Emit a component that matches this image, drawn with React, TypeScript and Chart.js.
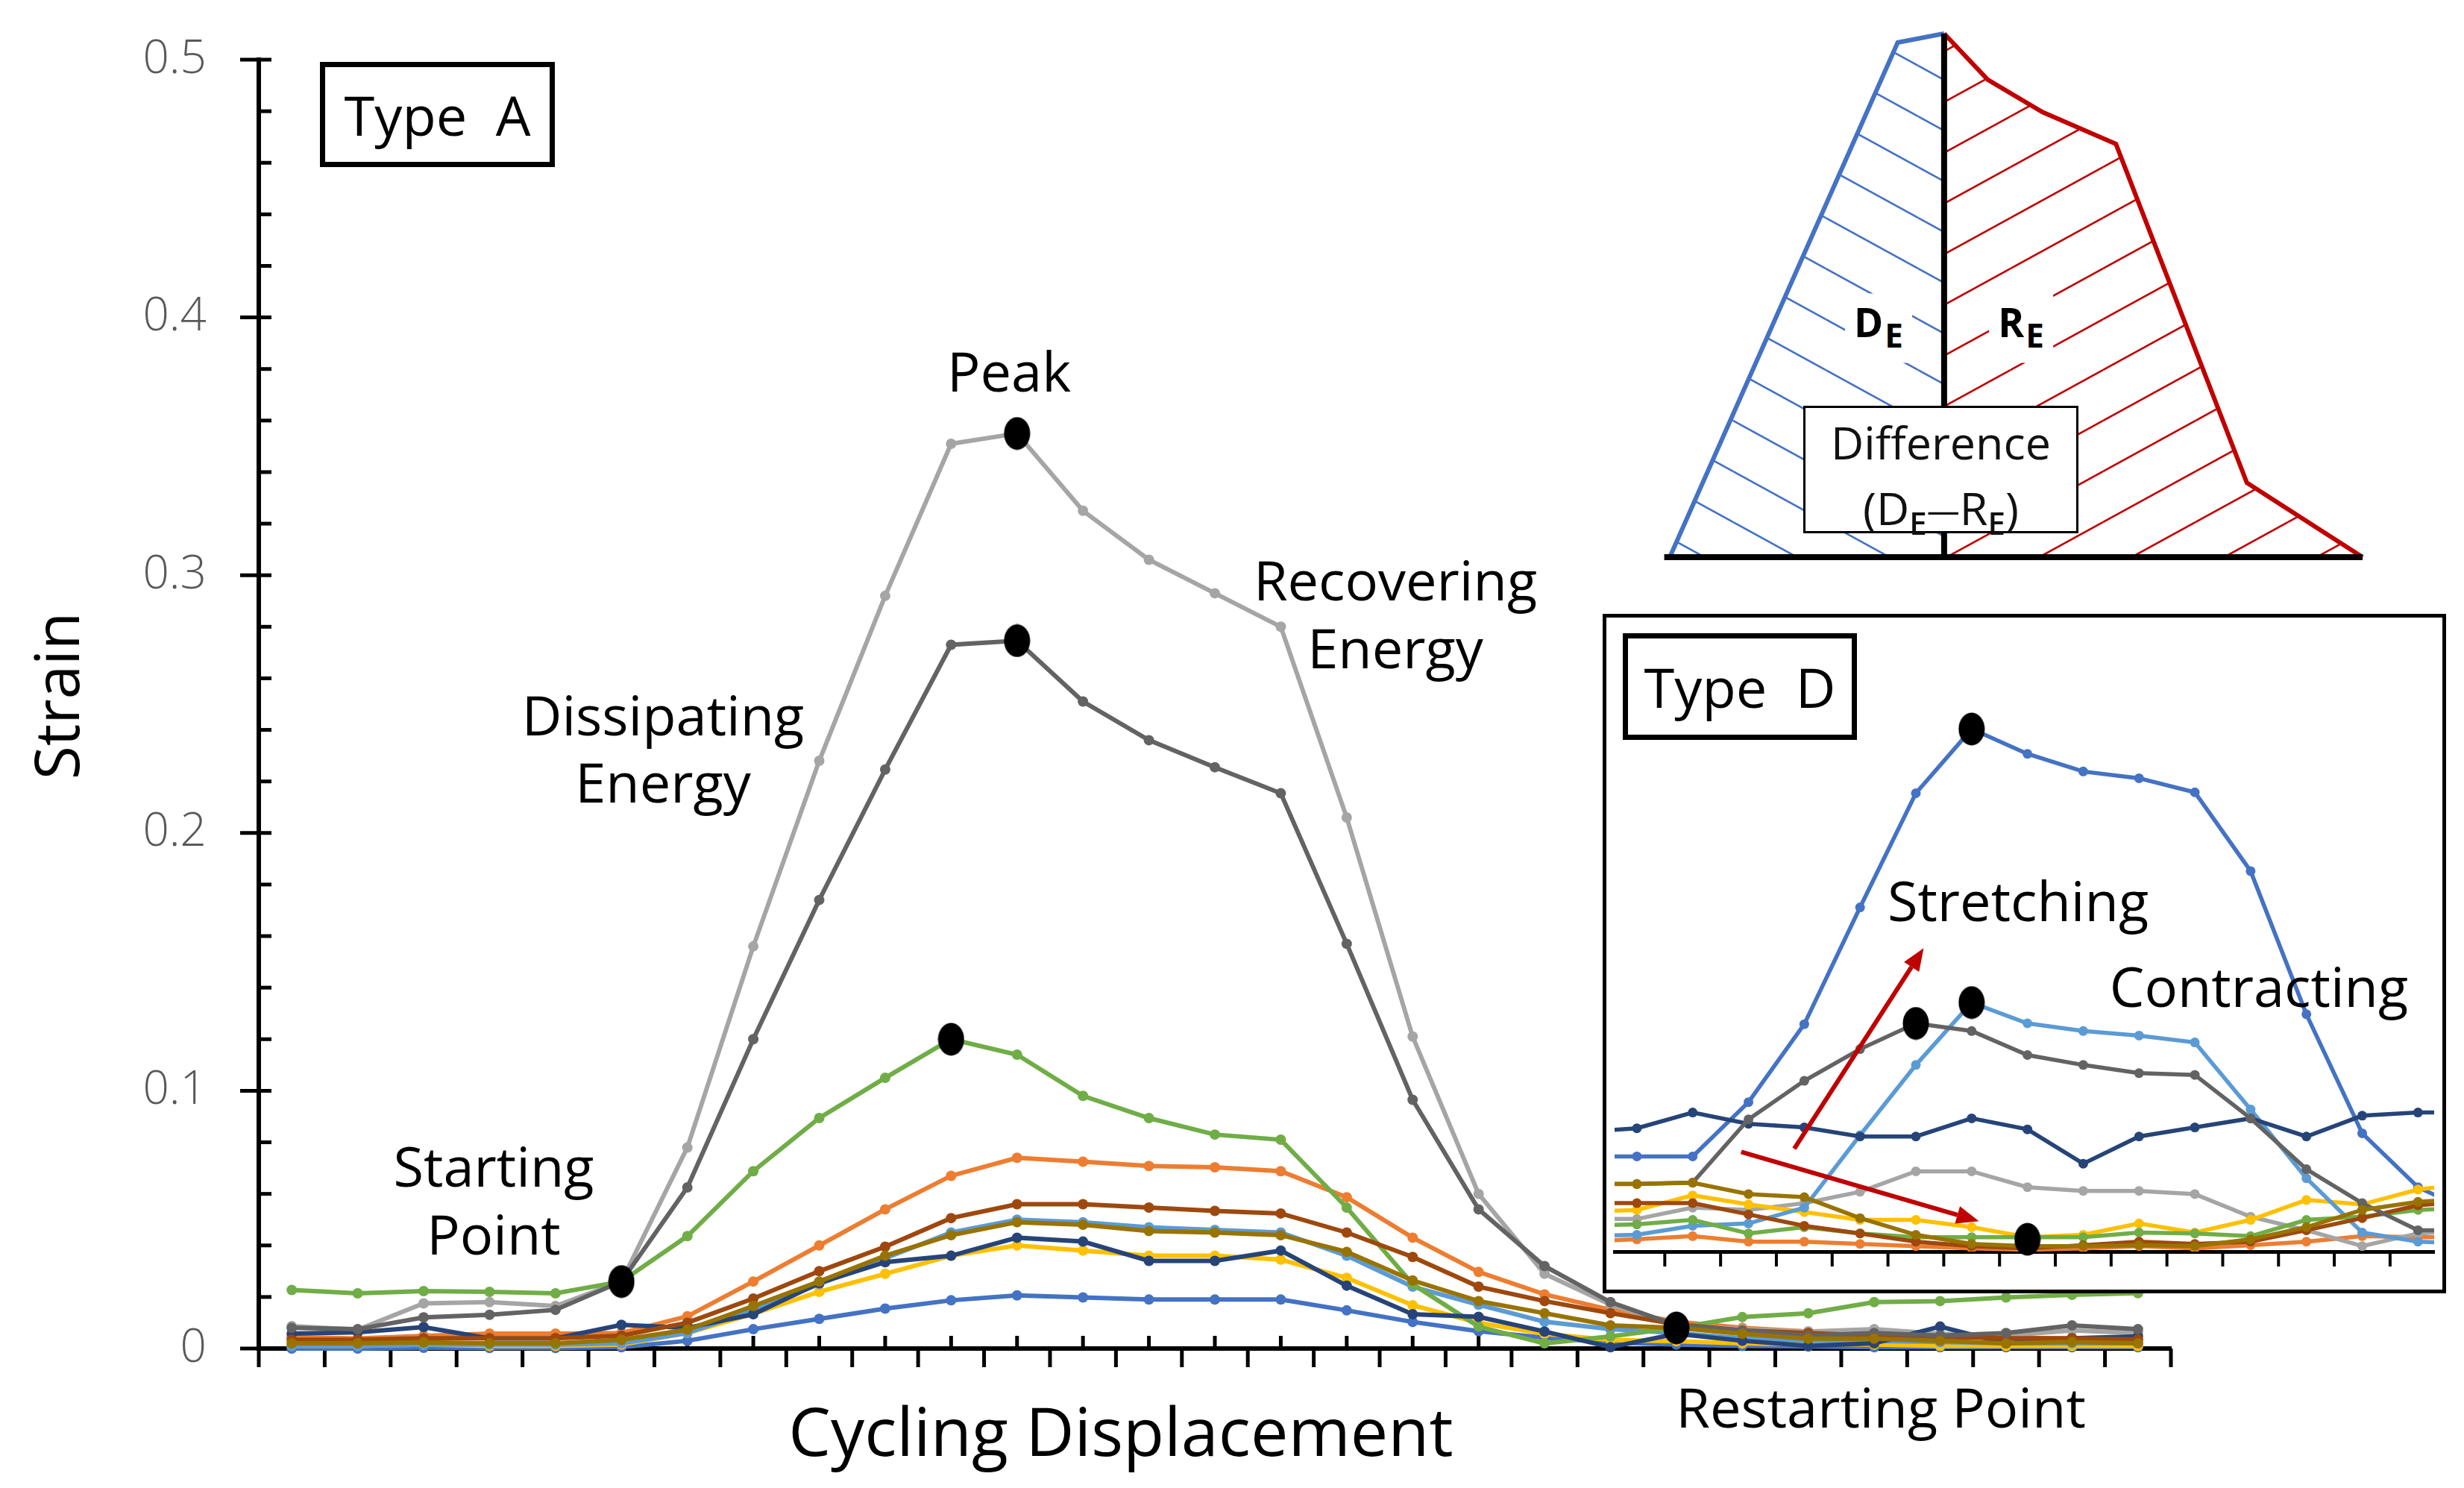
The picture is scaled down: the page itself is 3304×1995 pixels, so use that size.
import React, { useEffect, useRef } from "react";
import { Chart, registerables } from "chart.js";
Chart.register(...registerables);

// ---------- Type A (main chart) ----------
const cycles = [1, 2, 3, 4, 5, 6, 7, 8, 9, 10, 11, 12, 13, 14, 15, 16, 17, 18, 19, 20, 21, 22, 23, 24, 25, 26, 27, 28, 29];
const yTickLabels = ["0", "0.1", "0.2", "0.3", "0.4", "0.5"];

const aBlue = [0, 0, 0.0003, 0.0002, 0.0002, 0.0005, 0.003, 0.0075, 0.0115, 0.0155, 0.0187, 0.0206, 0.0198, 0.019, 0.019, 0.019, 0.0148, 0.0103, 0.0067, 0.0042, 0.0024, 0.0015, 0.001, 0.0008, 0.0005, 0.0005, 0.0005, 0.0005, 0.0005];
const aOrange = [0.0044, 0.0039, 0.0049, 0.0058, 0.0058, 0.006, 0.0125, 0.026, 0.04, 0.054, 0.067, 0.074, 0.0725, 0.0708, 0.0703, 0.0688, 0.0587, 0.043, 0.0297, 0.021, 0.015, 0.0104, 0.008, 0.0066, 0.0057, 0.0047, 0.0042, 0.0038, 0.0033];
const aGray = [0.0087, 0.0073, 0.0175, 0.018, 0.0165, 0.026, 0.078, 0.156, 0.228, 0.292, 0.351, 0.355, 0.325, 0.306, 0.293, 0.28, 0.206, 0.121, 0.06, 0.029, 0.017, 0.009, 0.0075, 0.0066, 0.0075, 0.0057, 0.005, 0.007, 0.006];
const aYellow = [0.001, 0.001, 0.0015, 0.001, 0.001, 0.0015, 0.006, 0.0135, 0.022, 0.029, 0.036, 0.04, 0.038, 0.036, 0.036, 0.0345, 0.0274, 0.0168, 0.01, 0.0057, 0.0033, 0.0028, 0.002, 0.0015, 0.0015, 0.001, 0.001, 0.001, 0.001];
const aLightBlue = [0.001, 0.001, 0.0015, 0.0015, 0.0015, 0.002, 0.006, 0.015, 0.025, 0.035, 0.045, 0.05, 0.049, 0.047, 0.046, 0.045, 0.036, 0.024, 0.017, 0.0104, 0.0075, 0.006, 0.004, 0.003, 0.003, 0.0025, 0.002, 0.002, 0.002];
const aGreen = [0.0227, 0.0214, 0.0223, 0.022, 0.0214, 0.026, 0.0436, 0.0688, 0.0894, 0.105, 0.12, 0.114, 0.098, 0.0894, 0.083, 0.081, 0.0547, 0.025, 0.0085, 0.002, 0.0047, 0.008, 0.0122, 0.0137, 0.018, 0.0184, 0.0198, 0.0208, 0.0215];
const aDarkBlue = [0.0058, 0.0063, 0.0083, 0.0039, 0.0039, 0.0092, 0.008, 0.0133, 0.0254, 0.0335, 0.036, 0.043, 0.0415, 0.034, 0.034, 0.038, 0.0244, 0.0133, 0.0123, 0.0066, 0.0005, 0.0057, 0.003, 0.001, 0.002, 0.0085, 0.002, 0.004, 0.0047];
const aBrown = [0.0034, 0.0034, 0.004, 0.004, 0.004, 0.005, 0.01, 0.0194, 0.03, 0.0395, 0.0506, 0.056, 0.056, 0.0547, 0.0534, 0.0524, 0.045, 0.0355, 0.024, 0.0184, 0.0137, 0.0094, 0.007, 0.006, 0.005, 0.0045, 0.004, 0.004, 0.0035];
const aDarkGray = [0.008, 0.0075, 0.0121, 0.0131, 0.015, 0.026, 0.0625, 0.12, 0.174, 0.2246, 0.273, 0.2746, 0.251, 0.236, 0.2255, 0.2154, 0.157, 0.0965, 0.054, 0.032, 0.018, 0.009, 0.007, 0.005, 0.006, 0.005, 0.006, 0.009, 0.0075];
const aOlive = [0.002, 0.002, 0.0024, 0.002, 0.002, 0.0034, 0.0073, 0.0165, 0.026, 0.036, 0.044, 0.049, 0.048, 0.0456, 0.045, 0.044, 0.0375, 0.0264, 0.0184, 0.0137, 0.009, 0.008, 0.0057, 0.0038, 0.0038, 0.003, 0.002, 0.0025, 0.002];
// [cycle index, strain] of the black key points
const aMarkers = [[5, 0.026], [11, 0.355], [11, 0.2746], [10, 0.12], [21, 0.008]];

// ---------- Type D (inset) ----------
const dCycles = [-1, 0, 1, 2, 3, 4, 5, 6, 7, 8, 9, 10, 11, 12, 13, 14, 15];
const dBlue = [0.0745, 0.0745, 0.0745, 0.117, 0.178, 0.2695, 0.3589, 0.4092, 0.3897, 0.3759, 0.3706, 0.3596, 0.2979, 0.1858, 0.0926, 0.0504, 0.03];
const dOrange = [0.0078, 0.0096, 0.0121, 0.0078, 0.0078, 0.006, 0.0043, 0.0025, 0.0014, 0.0025, 0.0043, 0.0025, 0.005, 0.0078, 0.0121, 0.0113, 0.0113];
const dGray = [0.0255, 0.0255, 0.0344, 0.0326, 0.0379, 0.0468, 0.0628, 0.0628, 0.0504, 0.0475, 0.0475, 0.045, 0.0273, 0.0167, 0.0043, 0.0142, 0.0167];
const dYellow = [0.0309, 0.0326, 0.044, 0.0369, 0.0309, 0.0248, 0.0248, 0.0191, 0.0113, 0.0131, 0.022, 0.0149, 0.0248, 0.0404, 0.0369, 0.0486, 0.0539];
const dLightBlue = [0.012, 0.0131, 0.0202, 0.022, 0.0344, 0.0911, 0.1461, 0.195, 0.1787, 0.1727, 0.1691, 0.1638, 0.1113, 0.0574, 0.0149, 0.0078, 0.006];
const dGreen = [0.0202, 0.0213, 0.0248, 0.0142, 0.0191, 0.0142, 0.0113, 0.0113, 0.0113, 0.0113, 0.0149, 0.0142, 0.0121, 0.0248, 0.0273, 0.0326, 0.0344];
const dDarkBlue = [0.0936, 0.0965, 0.1089, 0.1, 0.0972, 0.0901, 0.0901, 0.1043, 0.0957, 0.0688, 0.0901, 0.0972, 0.1043, 0.0901, 0.1064, 0.1089, 0.1089];
const dBrown = [0.0379, 0.0379, 0.0379, 0.0291, 0.0202, 0.0142, 0.0078, 0.0043, 0.0025, 0.005, 0.0078, 0.006, 0.0078, 0.0167, 0.0262, 0.0362, 0.0397];
const dDarkGray = [0.053, 0.053, 0.054, 0.1035, 0.1337, 0.1585, 0.1787, 0.1727, 0.1539, 0.1461, 0.1397, 0.1383, 0.1043, 0.0645, 0.0379, 0.0167, 0.0167];
const dOlive = [0.0528, 0.0528, 0.0539, 0.045, 0.0426, 0.0262, 0.0131, 0.006, 0.0043, 0.0043, 0.005, 0.0043, 0.0096, 0.0191, 0.0326, 0.039, 0.0415];
const dMarkers = [[6, 0.4092], [6, 0.195], [5, 0.1787], [7, 0.0096]];
const arrowStretch = [[2.82, 0.0805], [5.14, 0.2376]];
const arrowContract = [[1.87, 0.078], [6.13, 0.0238]];

// ---------- Energy sketch ----------
const energyLeftX = [0, 3.29, 3.96];
const energyLeftY = [0, 0.983, 1.0];
const energyRightX = [3.96, 4.59, 5.38, 6.44, 8.33, 10];
const energyRightY = [1.0, 0.912, 0.85, 0.789, 0.142, 0];

const COLORS = ["#4472C4", "#ED7D31", "#A5A5A5", "#FFC000", "#5B9BD5", "#70AD47", "#264478", "#9E480E", "#636363", "#997300"];
const FONT = "'Open Sans', 'Noto Sans', sans-serif";

function makeDot(w: number, h: number) {
  const c = document.createElement("canvas");
  c.width = w;
  c.height = h;
  const g = c.getContext("2d")!;
  g.fillStyle = "#000";
  g.beginPath();
  g.ellipse(w / 2, h / 2, w / 2 - 0.5, h / 2 - 0.5, 0, 0, Math.PI * 2);
  g.fill();
  return c;
}

function makeHatch(color: string, dir: number) {
  const w = 124, h = 68;
  const c = document.createElement("canvas");
  c.width = w;
  c.height = h;
  const g = c.getContext("2d")!;
  g.strokeStyle = color;
  g.lineWidth = 2.6;
  for (const dy of [-h, 0, h]) {
    g.beginPath();
    if (dir > 0) {
      g.moveTo(0, dy);
      g.lineTo(w, dy + h);
    } else {
      g.moveTo(0, dy + h);
      g.lineTo(w, dy);
    }
    g.stroke();
  }
  return g.createPattern(c, "repeat");
}

const toXY = (xs: number[], ys: number[]) => ys.map((y, i) => ({ x: xs[i], y }));

const mainTicks = {
  id: "mainTicks",
  beforeDatasetsDraw(chart: any) {
    const { ctx } = chart;
    const x = chart.scales.x;
    const y = chart.scales.y;
    const x0 = chart.chartArea.left;
    const y0 = chart.chartArea.bottom;
    ctx.save();
    ctx.strokeStyle = "#000";
    ctx.lineWidth = 5;
    y.ticks.forEach((t: any) => {
      const py = y.getPixelForValue(t.value);
      const major = Math.round(t.value * 100) % 10 === 0;
      ctx.beginPath();
      ctx.moveTo(x0 - (major ? 25 : 0), py);
      ctx.lineTo(x0 + 17, py);
      ctx.stroke();
    });
    for (let k = 0; k <= cycles.length; k++) {
      const px = x.getPixelForValue(k - 0.5);
      ctx.beginPath();
      ctx.moveTo(px, y0);
      ctx.lineTo(px, y0 + 25);
      ctx.stroke();
    }
    for (let i = 0; i < cycles.length; i++) {
      const px = x.getPixelForValue(i);
      ctx.beginPath();
      ctx.moveTo(px, y0);
      ctx.lineTo(px, y0 - 17);
      ctx.stroke();
    }
    ctx.restore();
  },
};

function drawArrow(ctx: any, x1: number, y1: number, x2: number, y2: number) {
  const ang = Math.atan2(y2 - y1, x2 - x1);
  const L = 30, W = 12;
  const bx = x2 - L * Math.cos(ang), by = y2 - L * Math.sin(ang);
  ctx.beginPath();
  ctx.moveTo(x1, y1);
  ctx.lineTo(bx, by);
  ctx.stroke();
  ctx.beginPath();
  ctx.moveTo(x2, y2);
  ctx.lineTo(bx + W * Math.sin(ang), by - W * Math.cos(ang));
  ctx.lineTo(bx - W * Math.sin(ang), by + W * Math.cos(ang));
  ctx.closePath();
  ctx.fill();
}

const insetDecor = {
  id: "insetDecor",
  beforeDatasetsDraw(chart: any) {
    const { ctx } = chart;
    const x = chart.scales.x;
    const y0 = chart.chartArea.bottom;
    ctx.save();
    ctx.strokeStyle = "#000";
    ctx.lineWidth = 4;
    for (let k = -1; k <= 15; k++) {
      const px = x.getPixelForValue(k + 0.5);
      if (px < chart.chartArea.left + 4 || px > chart.chartArea.right - 4) continue;
      ctx.beginPath();
      ctx.moveTo(px, y0);
      ctx.lineTo(px, y0 + 20);
      ctx.stroke();
    }
    ctx.restore();
  },
  afterDatasetsDraw(chart: any) {
    const { ctx } = chart;
    const x = chart.scales.x;
    const y = chart.scales.y;
    ctx.save();
    ctx.strokeStyle = "#C00000";
    ctx.fillStyle = "#C00000";
    ctx.lineWidth = 6;
    [arrowStretch, arrowContract].forEach((a) => {
      drawArrow(ctx, x.getPixelForValue(a[0][0]), y.getPixelForValue(a[0][1]), x.getPixelForValue(a[1][0]), y.getPixelForValue(a[1][1]));
    });
    ctx.restore();
  },
};

function Label(props: { x: number; y: number; size?: number; lh?: number; children: any; style?: any }) {
  const size = props.size || 74;
  return (
    <div
      style={{
        position: "absolute",
        left: props.x,
        top: props.y,
        transform: "translate(-50%, -50%)",
        fontFamily: FONT,
        fontSize: size,
        lineHeight: (props.lh || size) + "px",
        color: "#000",
        textAlign: "center",
        whiteSpace: "nowrap",
        ...(props.style || {}),
      }}
    >
      {props.children}
    </div>
  );
}

export default function App() {
  const mainRef = useRef<HTMLCanvasElement>(null);
  const insetRef = useRef<HTMLCanvasElement>(null);
  const energyRef = useRef<HTMLCanvasElement>(null);

  useEffect(() => {
    document.body.style.margin = "0";
    document.body.style.overflow = "hidden";
    const charts: Chart[] = [];
    const dot = makeDot(36, 45);

    const mainSeries = [aBlue, aOrange, aGray, aYellow, aLightBlue, aGreen, aDarkBlue, aBrown, aDarkGray, aOlive];
    const mainDatasets: any[] = mainSeries.map((s, i) => ({
      data: s.map((v, k) => ({ x: k, y: v })),
      borderColor: COLORS[i],
      backgroundColor: COLORS[i],
      borderWidth: 6,
      pointRadius: 7,
      pointBorderWidth: 0,
      pointBackgroundColor: COLORS[i],
      order: -i,
      clip: false,
    }));
    mainDatasets.push({
      data: aMarkers.map((m) => ({ x: m[0], y: m[1] })),
      showLine: false,
      pointStyle: dot,
      pointRadius: 10,
      order: -100,
      clip: false,
    });

    charts.push(
      new Chart(mainRef.current!, {
        type: "line",
        data: { datasets: mainDatasets },
        options: {
          animation: false,
          responsive: false,
          maintainAspectRatio: false,
          devicePixelRatio: 1,
          layout: { padding: { left: 0, right: 393, top: 80, bottom: 0 } },
          plugins: { legend: { display: false }, tooltip: { enabled: false } },
          scales: {
            x: {
              type: "linear",
              min: -0.5,
              max: cycles.length - 0.5,
              ticks: { display: false },
              grid: { display: false, drawTicks: false },
              border: { display: true, color: "#000", width: 6 },
              afterFit: (s: any) => {
                s.height = 187;
              },
            },
            y: {
              min: 0,
              max: 0.5,
              ticks: {
                stepSize: 0.02,
                autoSkip: false,
                padding: 0,
                color: "#595959",
                font: { family: FONT, size: 62, weight: 300 },
                callback: (v: any) => {
                  const r = Math.round(Number(v) * 100);
                  return r % 10 === 0 ? yTickLabels[r / 10] : "";
                },
              },
              grid: { display: false, drawTicks: true, tickLength: 70 },
              border: { display: true, color: "#000", width: 6 },
              afterFit: (s: any) => {
                s.width = 347;
              },
            },
          },
        } as any,
        plugins: [mainTicks],
      })
    );

    const insetSeries = [dBlue, dOrange, dGray, dYellow, dLightBlue, dGreen, dDarkBlue, dBrown, dDarkGray, dOlive];
    const insetDatasets: any[] = insetSeries.map((s, i) => ({
      data: toXY(dCycles, s),
      borderColor: COLORS[i],
      backgroundColor: COLORS[i],
      borderWidth: 5.5,
      pointRadius: 6.5,
      pointBorderWidth: 0,
      pointBackgroundColor: COLORS[i],
      order: -i,
    }));
    insetDatasets.push({
      data: dMarkers.map((m) => ({ x: m[0], y: m[1] })),
      showLine: false,
      pointStyle: dot,
      pointRadius: 10,
      order: -100,
      clip: false,
    });

    charts.push(
      new Chart(insetRef.current!, {
        type: "line",
        data: { datasets: insetDatasets },
        options: {
          animation: false,
          responsive: false,
          maintainAspectRatio: false,
          devicePixelRatio: 1,
          layout: { padding: 0 },
          plugins: { legend: { display: false }, tooltip: { enabled: false } },
          scales: {
            x: {
              type: "linear",
              min: -0.4,
              max: 14.29,
              ticks: { display: false },
              grid: { display: false, drawTicks: false },
              border: { display: true, color: "#000", width: 5 },
              afterFit: (s: any) => {
                s.height = 51;
              },
            },
            y: { display: false, min: 0, max: 0.49 },
          },
        } as any,
        plugins: [insetDecor],
      })
    );

    const blueHatch = makeHatch("#4472C4", 1);
    const redHatch = makeHatch("#C00000", -1);
    charts.push(
      new Chart(energyRef.current!, {
        type: "scatter",
        data: {
          datasets: [
            {
              data: toXY(energyLeftX, energyLeftY),
              showLine: true,
              borderColor: "#4472C4",
              borderWidth: 6,
              backgroundColor: blueHatch as any,
              fill: "origin",
              pointRadius: 0,
              clip: false,
              order: 3,
            },
            {
              data: toXY(energyRightX, energyRightY),
              showLine: true,
              borderColor: "#C00000",
              borderWidth: 6,
              backgroundColor: redHatch as any,
              fill: "origin",
              pointRadius: 0,
              clip: false,
              order: 2,
            },
            {
              data: toXY([energyLeftX[2], energyLeftX[2]], [0, energyLeftY[2]]),
              showLine: true,
              borderColor: "#000",
              borderWidth: 8,
              pointRadius: 0,
              clip: false,
              order: 1,
            },
            {
              data: toXY([energyLeftX[0] - 0.08, energyRightX[energyRightX.length - 1]], [0, 0]),
              showLine: true,
              borderColor: "#000",
              borderWidth: 8,
              pointRadius: 0,
              clip: false,
              order: 0,
            },
          ] as any,
        },
        options: {
          animation: false,
          responsive: false,
          maintainAspectRatio: false,
          devicePixelRatio: 1,
          layout: { padding: { left: 39, top: 25, right: 42, bottom: 23 } },
          plugins: { legend: { display: false }, tooltip: { enabled: false } },
          scales: {
            x: { type: "linear", display: false, min: 0, max: 10 },
            y: { type: "linear", display: false, min: 0, max: 1 },
          },
        } as any,
      })
    );

    return () => charts.forEach((c) => c.destroy());
  }, []);

  const subBold = { fontSize: 44, verticalAlign: -14, fontWeight: 700, marginLeft: 2 };
  const subBox = { fontSize: 42, verticalAlign: -13, fontWeight: 600 };

  return (
    <div style={{ position: "absolute", left: 0, top: 0, width: 3304, height: 1995, background: "#fff", overflow: "hidden" }}>
      <canvas ref={mainRef} width={3304} height={1995} style={{ position: "absolute", left: 0, top: 0, width: 3304, height: 1995 }} />
      <canvas ref={energyRef} width={1010} height={750} style={{ position: "absolute", left: 2200, top: 20, width: 1010, height: 750 }} />
      <div
        style={{
          position: "absolute",
          left: 2149,
          top: 823,
          width: 1131,
          height: 911,
          border: "5px solid #000",
          boxSizing: "border-box",
          background: "#fff",
          overflow: "hidden",
        }}
      >
        <canvas ref={insetRef} width={1121} height={901} style={{ position: "absolute", left: 0, top: 0, width: 1121, height: 901 }} />
      </div>

      {/* Axis titles */}
      <Label x={74} y={933} size={82} style={{ transform: "translate(-50%, -50%) rotate(-90deg)" }}>
        Strain
      </Label>
      <Label x={1503} y={1917} size={90}>
        Cycling Displacement
      </Label>

      {/* Type A annotations */}
      <div
        style={{
          position: "absolute",
          left: 429,
          top: 83,
          width: 315,
          height: 141,
          border: "7px solid #000",
          boxSizing: "border-box",
          display: "flex",
          alignItems: "center",
          justifyContent: "center",
          fontFamily: FONT,
          fontSize: 74,
          background: "#fff",
          whiteSpace: "pre",
        }}
      >
        {"Type  A"}
      </div>
      <Label x={1353} y={497}>Peak</Label>
      <Label x={889} y={1003} lh={90}>
        Dissipating
        <br />
        Energy
      </Label>
      <Label x={1871} y={822} lh={91}>
        Recovering
        <br />
        Energy
      </Label>
      <Label x={662} y={1608} lh={91}>
        Starting
        <br />
        Point
      </Label>
      <Label x={2522} y={1886}>Restarting Point</Label>

      {/* Energy sketch labels */}
      <Label x={2519} y={440} size={53} lh={60} style={{ background: "#fff", padding: "8px 12px", fontWeight: 700 }}>
        D<span style={subBold}>E</span>
      </Label>
      <Label x={2710} y={440} size={53} lh={60} style={{ background: "#fff", padding: "8px 12px", fontWeight: 700 }}>
        R<span style={subBold}>E</span>
      </Label>
      <div
        style={{
          position: "absolute",
          left: 2418,
          top: 544,
          width: 369,
          height: 171,
          border: "3px solid #000",
          boxSizing: "border-box",
          background: "#fff",
          fontFamily: FONT,
          fontSize: 61,
          lineHeight: "88px",
          textAlign: "center",
          color: "#111",
          paddingTop: 2,
          whiteSpace: "nowrap",
        }}
      >
        Difference
        <br />
        (D<span style={subBox}>E</span>
        <span style={{ fontSize: 44, verticalAlign: 4 }}>—</span>R<span style={subBox}>E</span>)
      </div>

      {/* Type D annotations */}
      <div
        style={{
          position: "absolute",
          left: 2176,
          top: 849,
          width: 314,
          height: 143,
          border: "7px solid #000",
          boxSizing: "border-box",
          display: "flex",
          alignItems: "center",
          justifyContent: "center",
          fontFamily: FONT,
          fontSize: 74,
          background: "#fff",
          whiteSpace: "pre",
        }}
      >
        {"Type  D"}
      </div>
      <Label x={2706} y={1207}>Stretching</Label>
      <Label x={3029} y={1322}>Contracting</Label>
    </div>
  );
}
